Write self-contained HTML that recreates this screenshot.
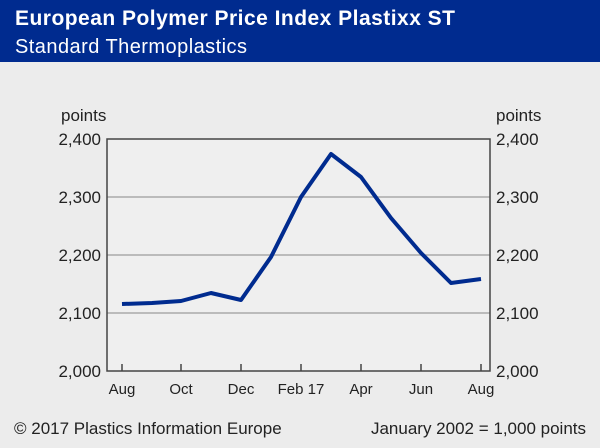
<!DOCTYPE html>
<html><head><meta charset="utf-8"><style>
body{margin:0;width:600px;height:443px;background:#ececec;font-family:"Liberation Sans",sans-serif;overflow:hidden}
</style></head><body>
<svg width="600" height="443" xmlns="http://www.w3.org/2000/svg" font-family="Liberation Sans, sans-serif">
<rect width="600" height="443" fill="#ececec"/>
<rect width="600" height="62" fill="#002b8f"/>
<text x="15" y="25" fill="#fff" font-size="21" font-weight="bold" textLength="440">European Polymer Price Index Plastixx ST</text>
<text x="15" y="53" fill="#fff" font-size="20" textLength="232">Standard Thermoplastics</text>
<rect x="107" y="139" width="383" height="232" fill="#efefef"/>
<g stroke="#aaa" stroke-width="1.5">
<line x1="107" y1="197" x2="490" y2="197"/><line x1="107" y1="255" x2="490" y2="255"/><line x1="107" y1="313" x2="490" y2="313"/>
</g>
<rect x="107" y="139" width="383" height="232" fill="none" stroke="#444" stroke-width="1.5"/>
<g stroke="#444" stroke-width="1.5">
<line x1="122" y1="364" x2="122" y2="371"/><line x1="181" y1="364" x2="181" y2="371"/><line x1="241" y1="364" x2="241" y2="371"/><line x1="301" y1="364" x2="301" y2="371"/><line x1="361" y1="364" x2="361" y2="371"/><line x1="421" y1="364" x2="421" y2="371"/><line x1="481" y1="364" x2="481" y2="371"/>
</g>
<polyline fill="none" stroke="#002b8f" stroke-width="4" stroke-linejoin="round" points="122,304 152,303 181,301 211,293 241,300 271,257 301,197 331,154 361,177 391,218 421,253 451,283 481,279"/>
<g font-size="17" fill="#222">
<text x="61" y="121">points</text><text x="496" y="121">points</text>
<g text-anchor="end"><text x="101" y="145">2,400</text><text x="101" y="203">2,300</text><text x="101" y="261">2,200</text><text x="101" y="319">2,100</text><text x="101" y="377">2,000</text></g>
<text x="496" y="145">2,400</text><text x="496" y="203">2,300</text><text x="496" y="261">2,200</text><text x="496" y="319">2,100</text><text x="496" y="377">2,000</text>
<g text-anchor="middle" font-size="15"><text x="122" y="394">Aug</text><text x="181" y="394">Oct</text><text x="241" y="394">Dec</text><text x="301" y="394">Feb 17</text><text x="361" y="394">Apr</text><text x="421" y="394">Jun</text><text x="481" y="394">Aug</text></g>
<text x="14" y="434">© 2017 Plastics Information Europe</text>
<text x="586" y="434" text-anchor="end">January 2002 = 1,000 points</text>
</g>
</svg>
</body></html>
